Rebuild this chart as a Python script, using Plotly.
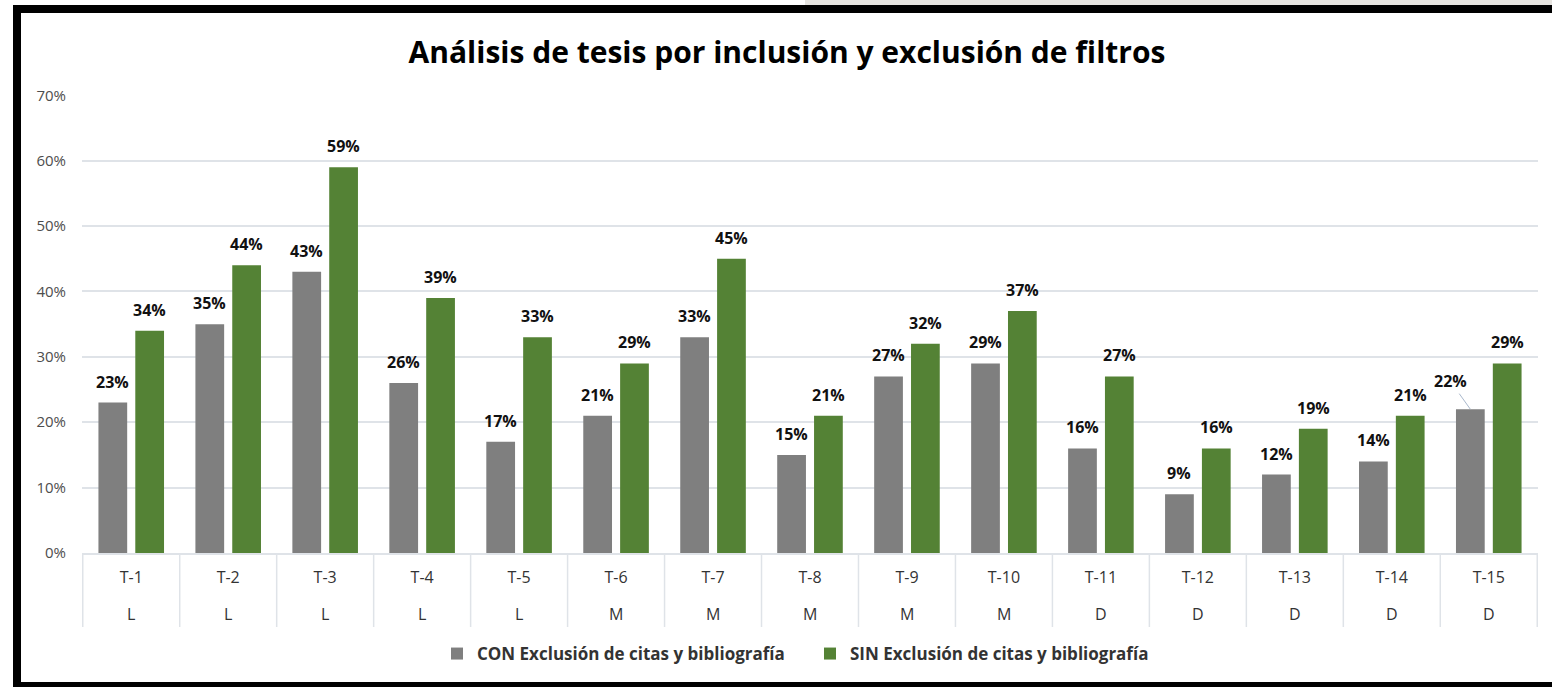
import plotly.graph_objects as go

# ---- data ----
tesis = ["T-1", "T-2", "T-3", "T-4", "T-5", "T-6", "T-7", "T-8",
         "T-9", "T-10", "T-11", "T-12", "T-13", "T-14", "T-15"]
nivel = ["L", "L", "L", "L", "L", "M", "M", "M", "M", "M",
         "D", "D", "D", "D", "D"]
con_exclusion = [23, 35, 43, 26, 17, 21, 33, 15, 27, 29, 16, 9, 12, 14, 22]
sin_exclusion = [34, 44, 59, 39, 33, 29, 45, 21, 32, 37, 27, 16, 19, 21, 29]
y_ticks = [0, 10, 20, 30, 40, 50, 60, 70]
y_tick_labels = ["0%", "10%", "20%", "30%", "40%", "50%", "60%", "70%"]

name_con = "CON Exclusión de citas y bibliografía"
name_sin = "SIN Exclusión de citas y bibliografía"
title = "Análisis de tesis por inclusión y exclusión de filtros"

FONT = "Open Sans"
GRID = "#dfe3e8"

# plot-area geometry in pixels (for paper-coordinate conversions)
W, H = 1552, 687
L_M, R_M, T_M, B_M = 82, 14, 95, 134
PW = W - L_M - R_M
PH = H - T_M - B_M
BARGAP = 0.24
BARGROUPGAP = 0.22

# half the distance between the two bar centers of a group, in px
CAT_PX = PW / len(tesis)
HALF_SLOT = CAT_PX * (1 - BARGAP) / 4


def py(pixel_y):
    return (H - B_M - pixel_y) / PH


def px(pixel_x):
    return (pixel_x - L_M) / PW


LABEL_FONT = dict(family=FONT, size=16, color="#111111")

fig = go.Figure()
fig.add_trace(go.Bar(
    x=tesis, y=con_exclusion, name=name_con,
    marker=dict(color="#7f7f7f", line=dict(width=0)),
))
fig.add_trace(go.Bar(
    x=tesis, y=sin_exclusion, name=name_sin,
    marker=dict(color="#548235", line=dict(width=0)),
))

# data labels
for i, t in enumerate(tesis):
    if i == len(tesis) - 1:
        # offset label with leader line (as in reference)
        fig.add_annotation(
            x=t, y=con_exclusion[i], xref="x", yref="y",
            xshift=-HALF_SLOT, text=f"<b>{con_exclusion[i]}%</b>",
            showarrow=True, arrowhead=0, arrowwidth=1, arrowcolor="#a9b8cc",
            ax=-20, ay=-28, standoff=0, font=LABEL_FONT,
        )
    else:
        fig.add_annotation(
            x=t, y=con_exclusion[i], xref="x", yref="y",
            xshift=-HALF_SLOT, yshift=8, yanchor="bottom",
            text=f"<b>{con_exclusion[i]}%</b>", showarrow=False,
            font=LABEL_FONT,
        )
    fig.add_annotation(
        x=t, y=sin_exclusion[i], xref="x", yref="y",
        xshift=HALF_SLOT, yshift=8, yanchor="bottom",
        text=f"<b>{sin_exclusion[i]}%</b>", showarrow=False,
        font=LABEL_FONT,
    )

shapes = []
# category dividers below axis
for i in range(len(tesis) + 1):
    shapes.append(dict(type="line", xref="x", yref="paper",
                       x0=i - 0.5, x1=i - 0.5, y0=0, y1=py(627),
                       line=dict(color=GRID, width=1.5)))
# frame (black bands on top, left, bottom) and top strip
shapes.append(dict(type="rect", xref="paper", yref="paper", layer="above",
                   x0=px(805), x1=px(W + 5), y0=py(-5), y1=py(5),
                   fillcolor="#e6e4e0", line=dict(width=0)))
shapes.append(dict(type="rect", xref="paper", yref="paper", layer="above",
                   x0=px(13), x1=px(W + 5), y0=py(13), y1=py(5),
                   fillcolor="#000000", line=dict(width=0)))
shapes.append(dict(type="rect", xref="paper", yref="paper", layer="above",
                   x0=px(13), x1=px(21), y0=py(H + 5), y1=py(5),
                   fillcolor="#000000", line=dict(width=0)))
shapes.append(dict(type="rect", xref="paper", yref="paper", layer="above",
                   x0=px(13), x1=px(W + 5), y0=py(H + 5), y1=py(682),
                   fillcolor="#000000", line=dict(width=0)))

# second row of category labels (level)
for t, n in zip(tesis, nivel):
    fig.add_annotation(x=t, y=py(614), xref="x", yref="paper",
                       text=n, showarrow=False, yanchor="middle",
                       font=dict(family=FONT, size=16, color="#333333"))

fig.update_layout(
    width=W, height=H,
    margin=dict(l=L_M, r=R_M, t=T_M, b=B_M),
    paper_bgcolor="white", plot_bgcolor="white",
    barmode="group", bargap=BARGAP, bargroupgap=BARGROUPGAP,
    shapes=shapes,
    title=dict(text=f"<b>{title}</b>", x=px(787), xref="paper",
               xanchor="center", y=1 - 52 / H, yanchor="middle",
               font=dict(family=FONT, size=30, color="#000000")),
    legend=dict(orientation="h", x=0.5, xanchor="center", xref="paper",
                y=py(654), yanchor="middle",
                font=dict(family=FONT, size=17, color="#333333", weight="bold"),
                entrywidth=328, traceorder="normal"),
    showlegend=True,
    font=dict(family=FONT),
)
fig.update_xaxes(
    type="category", showline=True, linecolor=GRID, linewidth=1.5,
    ticks="", showgrid=False,
    tickfont=dict(family=FONT, size=16, color="#333333"),
    ticklabelstandoff=9,
)
fig.update_yaxes(
    range=[0, 70.05], tickmode="array", tickvals=y_ticks,
    ticktext=y_tick_labels,
    showgrid=True, gridcolor=GRID, gridwidth=1.5, zeroline=False,
    showline=False, ticks="",
    tickfont=dict(family=FONT, size=15, color="#4d4d4d"),
    ticklabelstandoff=15,
)

fig.write_html(
    "out.html",
    config={"displayModeBar": False},
    post_script="document.body.style.margin='0';"
                "document.body.style.overflow='hidden';",
)
